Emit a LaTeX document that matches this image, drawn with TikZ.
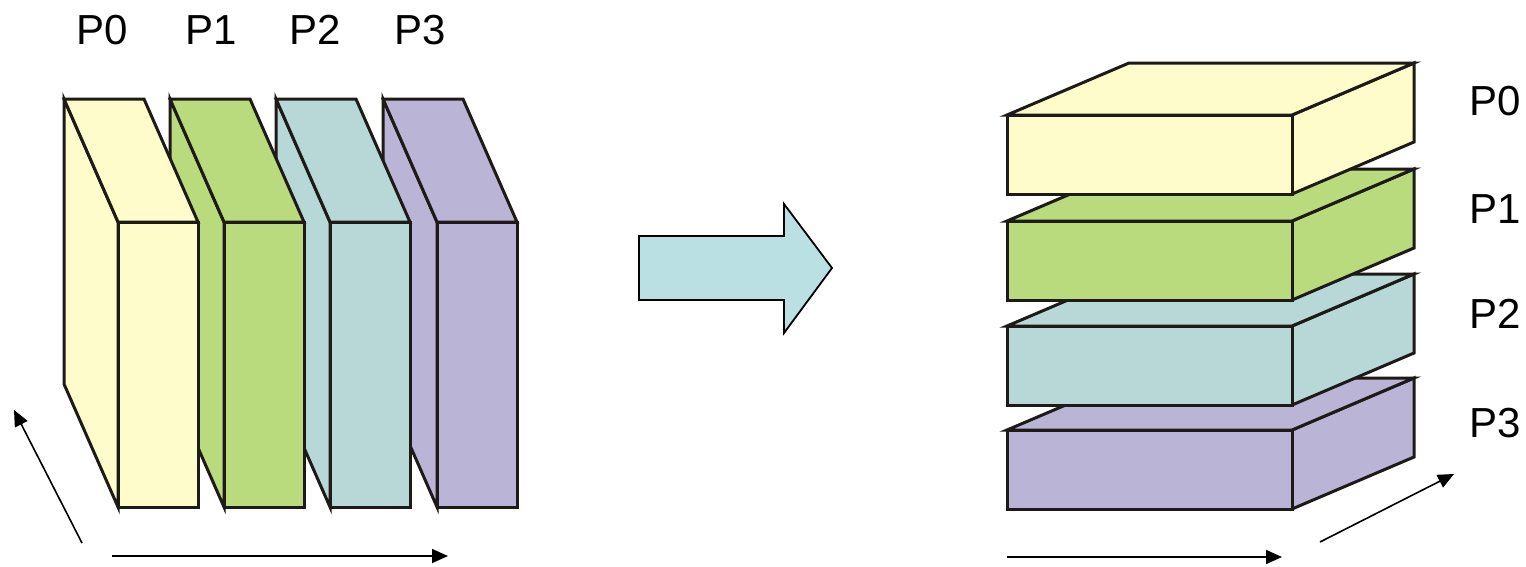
\documentclass[tikz,border=0pt]{standalone}
\usepackage{fontspec}
\setmainfont{Liberation Sans}
\usetikzlibrary{arrows.meta}
\definecolor{cyel}{HTML}{FEFCCB}
\definecolor{cgrn}{HTML}{B9DB7D}
\definecolor{cteal}{HTML}{B8D8D7}
\definecolor{cpur}{HTML}{BAB4D6}
\definecolor{carrow}{HTML}{BAE0E3}
\definecolor{edge}{HTML}{1E1A17}
\begin{document}
\begin{tikzpicture}[x=1pt,y=-1pt,
  slab/.style={draw=edge, line width=3pt, line join=miter},
  lbl/.style={font=\fontsize{42}{42}\selectfont, anchor=base, inner sep=0pt},
  axis/.style={line width=1.6pt, -{Triangle[length=16pt,width=14pt]}}]
\useasboundingbox (0,0) rectangle (1526,566);
% left: vertical slabs, back to front
\foreach \bx/\col in {383/cpur,276/cteal,170/cgrn,64/cyel}{
  \filldraw[slab, fill=\col] (\bx,99) -- (\bx+54,222) -- (\bx+54,507) -- (\bx,384) -- cycle;
  \filldraw[slab, fill=\col] (\bx,99) -- (\bx+80,99) -- (\bx+134,222) -- (\bx+54,222) -- cycle;
  \filldraw[slab, fill=\col] (\bx+54,222) rectangle (\bx+134,507);
}
% right: horizontal slabs, bottom to top
\foreach \ty/\col in {430/cpur,326/cteal,221/cgrn,115/cyel}{
  \filldraw[slab, fill=\col] (1292,\ty) -- (1414,\ty-52) -- (1414,\ty+27) -- (1292,\ty+79) -- cycle;
  \filldraw[slab, fill=\col] (1007,\ty) -- (1129,\ty-52) -- (1414,\ty-52) -- (1292,\ty) -- cycle;
  \filldraw[slab, fill=\col] (1007,\ty) rectangle (1292,\ty+79);
}
% labels
\node[lbl] (l0) at (102,44) {P0};
\node[lbl] (l1) at (211,44) {P1};
\node[lbl] (l2) at (315,44) {P2};
\node[lbl] (l3) at (420,44) {P3};
\node[lbl] (r0) at (1495,115) {P0};
\node[lbl] (r1) at (1495,223) {P1};
\node[lbl] (r2) at (1495,328) {P2};
\node[lbl] (r3) at (1495,437) {P3};
% block arrow
\filldraw[draw=black, line width=1.8pt, fill=carrow, line join=miter]
  (639,236) -- (784,236) -- (784,204) -- (832,268) -- (784,333) -- (784,300) -- (639,300) -- cycle;
% axes
\coordinate (a1s) at (82,543);
\coordinate (a1e) at (14,410);
\coordinate (a2s) at (112,556);
\coordinate (a2e) at (448,556);
\coordinate (b1s) at (1007,557);
\coordinate (b1e) at (1282,557);
\coordinate (b2s) at (1320,542);
\coordinate (b2e) at (1454,474);
\draw[axis] (a1s) -- (a1e);
\draw[axis] (a2s) -- (a2e);
\draw[axis] (b1s) -- (b1e);
\draw[axis] (b2s) -- (b2e);
\end{tikzpicture}
\end{document}
